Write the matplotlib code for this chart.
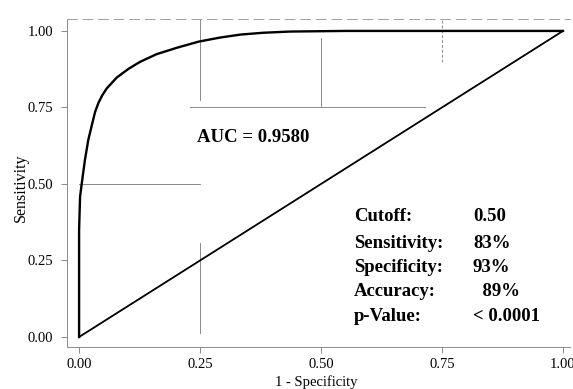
import matplotlib
matplotlib.use("Agg")
import matplotlib.pyplot as plt

plt.rcParams["font.family"] = ["Liberation Serif", "DejaVu Serif"]

# ROC curve
fpr = [0.0, 0.0, 0.002, 0.0055, 0.012, 0.019, 0.026, 0.033, 0.040, 0.048,
       0.057, 0.078, 0.102, 0.126, 0.160, 0.202, 0.247, 0.29, 0.333, 0.38,
       0.436, 0.55, 1.0]
tpr = [0.0, 0.35, 0.458, 0.502, 0.578, 0.644, 0.69, 0.735, 0.765, 0.79,
       0.812, 0.848, 0.876, 0.899, 0.924, 0.945, 0.965, 0.978, 0.988, 0.994,
       0.998, 1.0, 1.0]
ref_x = [0.0, 1.0]
ref_y = [0.0, 1.0]

ticks = [0.0, 0.25, 0.5, 0.75, 1.0]
tick_labels = ["0.00", "0.25", "0.50", "0.75", "1.00"]

auc_text = "AUC = 0.9580"
stat_names = ["Cutoff:", "Sensitivity:", "Specificity:", "Accuracy:", "p-Value:"]
stat_values = ["0.50", "83%", "93%", "  89%", "< 0.0001"]

fig = plt.figure(figsize=(5.73, 3.89), dpi=100)
ax = fig.add_axes([67 / 573, 1 - 347 / 389, 503 / 573, 328 / 389])
ax.set_xlim(-0.025, 1.0145)
ax.set_ylim(-0.0327, 1.039)

# broken grid fragments, like the scanned original
grey = "#8a8a8a"
ax.plot([0.23, 0.715], [ticks[3], ticks[3]], color=grey, lw=0.7)
ax.plot([0.0, 0.25], [ticks[2], ticks[2]], color=grey, lw=0.7)
ax.plot([ticks[1], ticks[1]], [0.775, 1.039], color=grey, lw=0.7)
ax.plot([ticks[1], ticks[1]], [0.013, 0.307], color=grey, lw=0.7)
ax.plot([ticks[2], ticks[2]], [0.752, 0.977], color=grey, lw=0.7)
ax.plot([ticks[3], ticks[3]], [0.90, 1.039], color=grey, lw=0.7, ls=(0, (3, 2)))

ax.plot(ref_x, ref_y, color="black", lw=1.3)
ax.plot(fpr, tpr, color="black", lw=1.7, solid_joinstyle="round")

ax.set_xticks(ticks)
ax.set_xticklabels(tick_labels)
ax.set_yticks(ticks)
ax.set_yticklabels(tick_labels)
ax.tick_params(axis="both", labelsize=10.5, color=grey, length=4.3, width=0.7)
ax.tick_params(axis="y", pad=5.8)
ax.tick_params(axis="x", pad=3.6)

for side in ["left", "bottom"]:
    ax.spines[side].set_color(grey)
    ax.spines[side].set_linewidth(0.7)
ax.spines["top"].set_color("#a0a0a0")
ax.spines["top"].set_linewidth(0.7)
ax.spines["top"].set_linestyle((0, (10, 6)))
ax.spines["right"].set_visible(False)

ax.set_xlabel("1 - Specificity", fontsize=10.5)
ax.xaxis.set_label_coords(0.495, -0.085)
ax.set_ylabel("Sensitivity", fontsize=11.5)
ax.yaxis.set_label_coords(-0.0755, 0.485)

ax.text(0.244, 0.637, auc_text, fontsize=13.5, fontweight="bold", va="baseline", ha="left")

row_y = [0.379, 0.291, 0.212, 0.134, 0.052]
for name, val, y in zip(stat_names, stat_values, row_y):
    ax.text(0.568, y, name, fontsize=13.5, fontweight="bold", va="baseline", ha="left")
    ax.text(0.814, y, val, fontsize=13.5, fontweight="bold", va="baseline", ha="left")

fig.savefig("out.png", dpi=100)
